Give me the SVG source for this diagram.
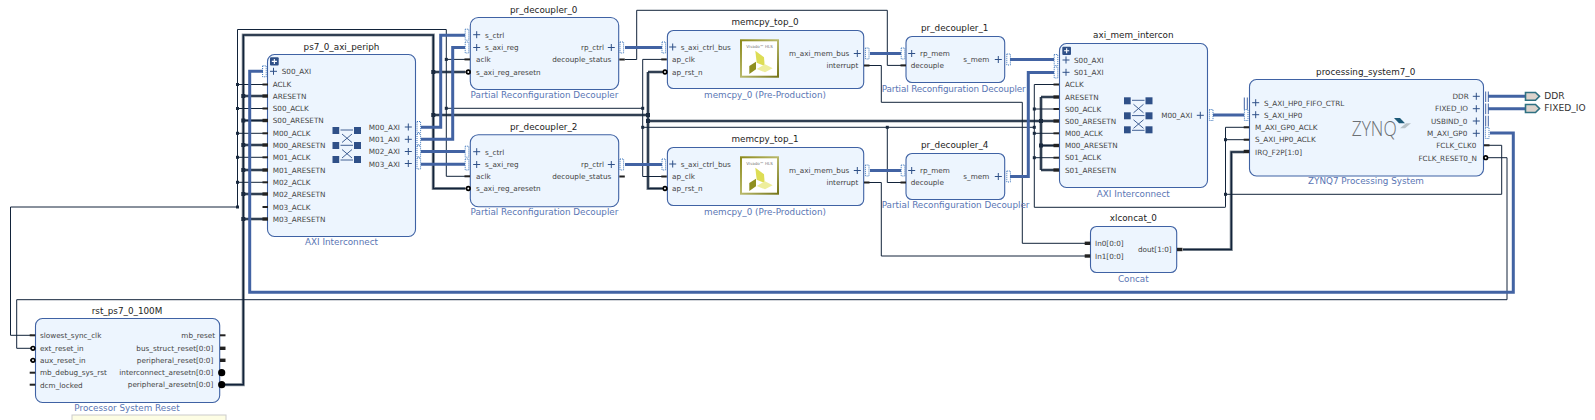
<svg xmlns="http://www.w3.org/2000/svg" xmlns:xlink="http://www.w3.org/1999/xlink" width="1595" height="420" viewBox="0 0 1595 420">
<style>
text{font-family:"DejaVu Sans",sans-serif}
.box{fill:#edf5fe;stroke:#3f62a4;stroke-width:1.1}
.t{font-size:8.8px;fill:#222;text-anchor:middle}
.s{font-size:8.8px;fill:#5a76b4;text-anchor:middle}
.p{font-size:7.25px;fill:#444}
.r{text-anchor:end}
.w{fill:none;stroke:#12233a;stroke-width:1}
.h{fill:none;stroke:#8d969e;stroke-width:3.2}
.k{fill:none;stroke:#12233a;stroke-width:1.5}
.b{fill:none;stroke:#4263a3;stroke-width:3}
.j{fill:#1a2a3f}
.st{fill:#222}
.plus{fill:none;stroke:#2f5088;stroke-width:1}
.dot{fill:none;stroke:#3a74bb;stroke-width:1;stroke-dasharray:1 1}
.bar{fill:none;stroke:#3f62a4;stroke-width:1}
.sq{fill:#2f5088}
.xl{fill:none;stroke:#2f5088;stroke-width:.9}
.bub{fill:#fff;stroke:#000;stroke-width:1.7}
.ext{font-size:9.1px;fill:#333}
</style>
<defs>
<path id="plus" class="plus" d="M-3.5 0H3.5M0-3.5V3.5"/>
<rect id="dp" class="dot" x="0" y="-5.5" width="3.6" height="11"/>
<rect id="stub" class="st" x="0" y="-1" width="5.5" height="2"/>
<rect id="stubk" class="st" x="0" y="-1.7" width="5.5" height="3.4"/>
<g id="bubble"><rect class="st" x="-3" y="-0.8" width="2" height="1.6"/><circle class="bub" r="1.8"/></g>
<circle id="ball" fill="#000" r="3.6"/>
<rect id="jt" class="j" x="-1.5" y="-1.5" width="3" height="3"/>
<rect id="jk" class="j" x="-2" y="-2" width="4" height="4"/>
<g id="btn"><rect class="sq" width="8.7" height="8.2" rx="1"/><path d="M1.8 4.1H6.9M4.35 1.6V6.6" stroke="#fff" stroke-width="1.1" fill="none"/></g>
<g id="xbar">
<rect class="sq" x="332.5" y="127" width="6.7" height="7"/><rect class="sq" x="354" y="127" width="7" height="7"/>
<rect class="sq" x="332.5" y="142" width="6.7" height="7"/><rect class="sq" x="354" y="142" width="7" height="7"/>
<rect class="sq" x="332.5" y="156" width="6.7" height="7"/><rect class="sq" x="354" y="156" width="7" height="7"/>
<path class="xl" d="M340.5 130H353M340.5 145.3H353M340.5 160H353M342 134L352 142.5M352 134L342 142.5M342 149.5L352 158M352 149.5L342 158"/>
</g>
<linearGradient id="gold" x1="0" y1="0" x2="1" y2="1"><stop offset="0" stop-color="#8c8a1c"/><stop offset=".5" stop-color="#b8b86a"/><stop offset="1" stop-color="#77761a"/></linearGradient>
<g id="hls">
<rect x="741" y="40.3" width="37" height="36.4" fill="#fff" stroke="url(#gold)" stroke-width="2"/>
<text x="759.5" y="47.8" font-size="4px" fill="#777" text-anchor="middle">Vivado™ HLS</text>
<polygon points="755.3,50.7 764,57.3 764.7,66 756.7,62.7" fill="#dddd55"/>
<polygon points="749.3,66 756,61.7 756,69.3 749.3,74" fill="#8f8f20"/>
<polygon points="756.7,69 765,64.3 772.7,68.3 765,72.3" fill="#eeee9c"/>
</g>
<path id="rnet" d="M225 384.7H243.3V35H433.3V188.5H465M243.3 96H263M243.3 120.5H263M243.3 145H263M243.3 170H263M243.3 194H263M243.3 219H263M433.3 72H465M433.3 115H648M648 72H662M648 72V188.5H662M648 121H1041M1041 97V170M1041 97H1054M1041 121H1054M1041 145.5H1054M1041 170H1054"/>
<path id="irq" d="M1183 249.5H1231.3V152H1244"/>
</defs>

<g id="connectors">
<use xlink:href="#rnet" href="#rnet" class="h"/>
<use xlink:href="#irq" href="#irq" class="h"/>
<use xlink:href="#rnet" href="#rnet" class="k"/>
<use xlink:href="#irq" href="#irq" class="k"/>
<path class="w" d="M32 335.3H10.5V207H237.5V29.5H446.3V176.3H465M237.5 84.5H263M237.5 108.5H263M237.5 133.3H263M237.5 157.3H263M237.5 182.3H263M446.3 59.4H465M446.3 108.3H642.7M642.7 59.4H662M642.7 59.4V176.5H662M642.7 127.3H1034.3M1484 145.3H1501.7V194.3H1225.5M1255 127.3H1225.5V206.9M1225.5 139.7H1250M1225.5 207.3H1034.3V84.5H1054M1034.3 109H1054M1034.3 133.3H1054M1034.3 157.7H1054"/>
<path class="w" d="M625 59.5H636.7V10.3H887.3V65.4H906M887.3 127.3V182.5H906"/>
<path class="w" d="M869 65.5H881.3V102.3H1022.3V243.3H1085M869 182.5H881.3V256H1085"/>
<path class="w" d="M1484 157.7H1507V299.7H16.7V348.3H30"/>
<path class="b" d="M263 71.3H249.7V292.3H1513.3V132.9H1490"/>
<path class="b" d="M421 127.3H440.7V35.3H465M421 139.3H452.7V47.4H465M421 151.4H465M421 164.2H465M625 47.5H662M625 164.5H662M870 53.5H901M870 170.5H901M1010 59.5H1054M1010 176.5H1028.3V72.5H1054M1213 115H1244M1488 96.3H1526M1488 108.7H1526"/>
<g>
<use href="#jt" x="237.5" y="84.5"/><use href="#jt" x="237.5" y="108.5"/><use href="#jt" x="237.5" y="133.3"/><use href="#jt" x="237.5" y="157.3"/><use href="#jt" x="237.5" y="182.3"/><use href="#jt" x="237.5" y="207"/>
<use href="#jk" x="243.3" y="96"/><use href="#jk" x="243.3" y="120.5"/><use href="#jk" x="243.3" y="145"/><use href="#jk" x="243.3" y="170"/><use href="#jk" x="243.3" y="194"/><use href="#jk" x="243.3" y="219"/>
<use href="#jt" x="446.3" y="59.4"/><use href="#jt" x="446.3" y="108.3"/><use href="#jk" x="433.3" y="72"/><use href="#jk" x="433.3" y="115"/>
<use href="#jt" x="642.7" y="108.3"/><use href="#jt" x="642.7" y="127.3"/><use href="#jk" x="648" y="115"/><use href="#jk" x="648" y="121"/>
<use href="#jt" x="887.3" y="127.3"/><use href="#jt" x="1034.3" y="109"/><use href="#jt" x="1034.3" y="127.3"/><use href="#jt" x="1034.3" y="133.3"/><use href="#jt" x="1034.3" y="157.7"/>
<use href="#jk" x="1041" y="121"/><use href="#jk" x="1041" y="145.5"/>
<use href="#jt" x="1225.5" y="139.7"/><use href="#jt" x="1225.5" y="194.3"/>
</g>
</g>

<g id="ps7_0_axi_periph">
<rect class="box" x="267.5" y="54.5" width="148" height="182" rx="7"/>
<text class="t" x="341.5" y="50">ps7_0_axi_periph</text>
<text class="s" x="341.5" y="244.5">AXI Interconnect</text>
<use href="#btn" x="270" y="57.3"/>
<use href="#plus" x="273.5" y="71.3"/><use href="#dp" x="262.6" y="71.3"/>
<text class="p" x="281.7" y="74">S00_AXI</text>
<text class="p" x="272.7" y="87.2">ACLK</text><text class="p" x="272.7" y="99">ARESETN</text><text class="p" x="272.7" y="111.2">S00_ACLK</text><text class="p" x="272.7" y="123.2">S00_ARESETN</text><text class="p" x="272.7" y="136">M00_ACLK</text><text class="p" x="272.7" y="148">M00_ARESETN</text><text class="p" x="272.7" y="160">M01_ACLK</text><text class="p" x="272.7" y="173">M01_ARESETN</text><text class="p" x="272.7" y="185">M02_ACLK</text><text class="p" x="272.7" y="197">M02_ARESETN</text><text class="p" x="272.7" y="209.7">M03_ACLK</text><text class="p" x="272.7" y="222">M03_ARESETN</text>
<g fill="#222">
<use href="#stub" x="262.5" y="84.5"/><use href="#stubk" x="262.5" y="96"/><use href="#stub" x="262.5" y="108.5"/><use href="#stubk" x="262.5" y="120.5"/><use href="#stub" x="262.5" y="133.3"/><use href="#stubk" x="262.5" y="145"/><use href="#stub" x="262.5" y="157.3"/><use href="#stubk" x="262.5" y="170"/><use href="#stub" x="262.5" y="182.3"/><use href="#stubk" x="262.5" y="194"/><use href="#stub" x="262.5" y="207"/><use href="#stubk" x="262.5" y="219"/>
</g>
<text class="p r" x="400" y="130">M00_AXI</text><text class="p r" x="400" y="142">M01_AXI</text><text class="p r" x="400" y="154">M02_AXI</text><text class="p r" x="400" y="166.5">M03_AXI</text>
<use href="#plus" x="408.3" y="127"/><use href="#plus" x="408.3" y="139.3"/><use href="#plus" x="408.3" y="151.5"/><use href="#plus" x="408.3" y="163.5"/>
<use href="#dp" x="417" y="127"/><use href="#dp" x="417" y="139.3"/><use href="#dp" x="417" y="151.4"/><use href="#dp" x="417" y="163.5"/>
<use href="#xbar"/>
</g>

<g id="pr_decoupler_0">
<rect class="box" x="470.3" y="17.5" width="148.4" height="72" rx="8"/>
<text class="t" x="543.7" y="13.3">pr_decoupler_0</text>
<text class="s" x="544.5" y="97.7">Partial Reconfiguration Decoupler</text>
<use href="#plus" x="476.7" y="34.7"/><use href="#plus" x="476.7" y="47.5"/><use href="#dp" x="465.2" y="34.7"/><use href="#dp" x="465.2" y="47.5"/>
<text class="p" x="485" y="38">s_ctrl</text><text class="p" x="485" y="50.2">s_axi_reg</text><text class="p" x="476" y="62.2">aclk</text><text class="p" x="476" y="74.7">s_axi_reg_aresetn</text>
<use href="#stub" x="464.5" y="59.4"/><use href="#bubble" x="468.3" y="72"/>
<text class="p r" x="604" y="50.2">rp_ctrl</text><text class="p r" x="611.3" y="62.2">decouple_status</text>
<use href="#plus" x="611.3" y="47.5"/><use href="#dp" x="620" y="47.5"/><use href="#stub" x="619.3" y="59.5"/>
</g>

<g id="pr_decoupler_2">
<rect class="box" x="470.3" y="134.7" width="148.4" height="72" rx="8"/>
<text class="t" x="543.7" y="130">pr_decoupler_2</text>
<text class="s" x="544.5" y="214.7">Partial Reconfiguration Decoupler</text>
<use href="#plus" x="476.7" y="151.7"/><use href="#plus" x="476.7" y="164.5"/><use href="#dp" x="465.2" y="151.7"/><use href="#dp" x="465.2" y="164.5"/>
<text class="p" x="485" y="155">s_ctrl</text><text class="p" x="485" y="167.2">s_axi_reg</text><text class="p" x="476" y="179.2">aclk</text><text class="p" x="476" y="191.4">s_axi_reg_aresetn</text>
<use href="#stub" x="464.5" y="176.3"/><use href="#bubble" x="468.3" y="188.5"/>
<text class="p r" x="604" y="167.2">rp_ctrl</text><text class="p r" x="611.3" y="179.2">decouple_status</text>
<use href="#plus" x="611.3" y="164.5"/><use href="#dp" x="620" y="164.5"/><use href="#stub" x="619.3" y="176.5"/>
</g>

<g id="memcpy_top_0">
<rect class="box" x="667.4" y="30.5" width="196.3" height="58" rx="6"/>
<text class="t" x="765" y="25">memcpy_top_0</text>
<text class="s" x="765" y="97.7">memcpy_0 (Pre-Production)</text>
<use href="#plus" x="672.7" y="47"/><use href="#dp" x="662" y="47.5"/>
<text class="p" x="680.7" y="50.2">s_axi_ctrl_bus</text><text class="p" x="672" y="62.2">ap_clk</text><text class="p" x="672" y="74.7">ap_rst_n</text>
<use href="#stub" x="661.3" y="59.4"/><use href="#bubble" x="665" y="72"/>
<use href="#hls"/>
<text class="p r" x="849.3" y="56.2">m_axi_mem_bus</text><text class="p r" x="858.3" y="68.2">interrupt</text>
<use href="#plus" x="857.3" y="53.5"/><use href="#dp" x="865.4" y="53.5"/><use href="#stub" x="864" y="65.5"/>
</g>

<g id="memcpy_top_1">
<rect class="box" x="667.4" y="147.5" width="196.3" height="58" rx="6"/>
<text class="t" x="765" y="141.7">memcpy_top_1</text>
<text class="s" x="765" y="214.7">memcpy_0 (Pre-Production)</text>
<use href="#plus" x="672.7" y="164"/><use href="#dp" x="662" y="164.5"/>
<text class="p" x="680.7" y="167.2">s_axi_ctrl_bus</text><text class="p" x="672" y="179.2">ap_clk</text><text class="p" x="672" y="191.4">ap_rst_n</text>
<use href="#stub" x="661.3" y="176.5"/><use href="#bubble" x="665" y="188.5"/>
<use href="#hls" y="117"/>
<text class="p r" x="849.3" y="173.2">m_axi_mem_bus</text><text class="p r" x="858.3" y="185.2">interrupt</text>
<use href="#plus" x="857.3" y="170.5"/><use href="#dp" x="865.4" y="170.5"/><use href="#stub" x="864" y="182.5"/>
</g>

<g id="pr_decoupler_1">
<rect class="box" x="906" y="36.5" width="98.7" height="46" rx="6"/>
<text class="t" x="954.7" y="31">pr_decoupler_1</text>
<text class="s" x="881.7" y="91.7" style="text-anchor:start" textLength="144">Partial Reconfiguration Decoupler</text>
<use href="#plus" x="911.7" y="53.5"/><use href="#dp" x="901.2" y="53.5"/>
<text class="p" x="920" y="56.2">rp_mem</text><text class="p" x="910.7" y="68.2">decouple</text>
<use href="#stub" x="900.5" y="65.4"/>
<text class="p r" x="989.3" y="62.2">s_mem</text>
<use href="#plus" x="998.3" y="59.5"/><use href="#dp" x="1006.8" y="59.5"/>
</g>

<g id="pr_decoupler_4">
<rect class="box" x="906" y="153.5" width="98.7" height="46" rx="6"/>
<text class="t" x="954.7" y="148">pr_decoupler_4</text>
<text class="s" x="881.7" y="208.3" style="text-anchor:start">Partial Reconfiguration Decoupler</text>
<use href="#plus" x="911.7" y="170.5"/><use href="#dp" x="901.2" y="170.5"/>
<text class="p" x="920" y="173.2">rp_mem</text><text class="p" x="910.7" y="185.2">decouple</text>
<use href="#stub" x="900.5" y="182.5"/>
<text class="p r" x="989.3" y="179.2">s_mem</text>
<use href="#plus" x="998.3" y="176.5"/><use href="#dp" x="1006.8" y="176.5"/>
</g>

<g id="axi_mem_intercon">
<rect class="box" x="1059.5" y="43.5" width="148" height="144" rx="7"/>
<text class="t" x="1133.3" y="37.7">axi_mem_intercon</text>
<text class="s" x="1133.3" y="196.7">AXI Interconnect</text>
<use href="#btn" x="1062.3" y="46.7"/>
<use href="#plus" x="1066" y="60"/><use href="#plus" x="1066" y="72.3"/><use href="#dp" x="1054.2" y="60"/><use href="#dp" x="1054.2" y="72.5"/>
<text class="p" x="1074" y="62.8">S00_AXI</text><text class="p" x="1074" y="75.2">S01_AXI</text>
<text class="p" x="1065" y="87.2">ACLK</text><text class="p" x="1065" y="99.8">ARESETN</text><text class="p" x="1065" y="111.8">S00_ACLK</text><text class="p" x="1065" y="123.8">S00_ARESETN</text><text class="p" x="1065" y="136">M00_ACLK</text><text class="p" x="1065" y="148.2">M00_ARESETN</text><text class="p" x="1065" y="160.4">S01_ACLK</text><text class="p" x="1065" y="172.8">S01_ARESETN</text>
<use href="#stub" x="1053.5" y="84.5"/><use href="#stubk" x="1053.5" y="97"/><use href="#stub" x="1053.5" y="109"/><use href="#stubk" x="1053.5" y="121"/><use href="#stub" x="1053.5" y="133.3"/><use href="#stubk" x="1053.5" y="145.5"/><use href="#stub" x="1053.5" y="157.7"/><use href="#stubk" x="1053.5" y="170"/>
<use href="#xbar" x="791.5" y="-29.7"/>
<text class="p r" x="1192.3" y="118">M00_AXI</text>
<use href="#plus" x="1200.3" y="115.3"/><use href="#dp" x="1209.4" y="115"/>
</g>

<g id="xlconcat_0">
<rect class="box" x="1090.5" y="226.5" width="86.2" height="46" rx="6"/>
<text class="t" x="1133.3" y="220.7">xlconcat_0</text>
<text class="s" x="1133.3" y="281.7">Concat</text>
<text class="p" x="1095" y="246">In0[0:0]</text><text class="p" x="1095" y="258.7">In1[0:0]</text>
<text class="p r" x="1171.7" y="252.2">dout[1:0]</text>
<use href="#stubk" x="1084.7" y="243.3"/><use href="#stubk" x="1084.7" y="256"/><use href="#stubk" x="1177" y="249.5"/>
</g>

<g id="processing_system7_0">
<rect class="box" x="1249.5" y="79.5" width="234" height="96.5" rx="7"/>
<text class="t" x="1365.7" y="75">processing_system7_0</text>
<text class="s" x="1366" y="184">ZYNQ7 Processing System</text>
<use href="#plus" x="1255.7" y="102.7"/><use href="#plus" x="1255.7" y="114.7"/>
<path class="bar" d="M1244.3 97.5V109.5M1247.3 97.5V109.5"/><use href="#dp" x="1244.4" y="115"/>
<text class="p" x="1264" y="105.5">S_AXI_HP0_FIFO_CTRL</text><text class="p" x="1264" y="118">S_AXI_HP0</text>
<text class="p" x="1255" y="130">M_AXI_GP0_ACLK</text><text class="p" x="1255" y="142.4">S_AXI_HP0_ACLK</text><text class="p" x="1255" y="155">IRQ_F2P[1:0]</text>
<use href="#stub" x="1243.7" y="127.3"/><use href="#stub" x="1243.7" y="139.7"/><use href="#stubk" x="1243.7" y="151.5"/>
<text x="1351.7" y="136" font-size="21px" textLength="45" lengthAdjust="spacingAndGlyphs" style="font-family:'Open Sans',sans-serif;font-weight:300" fill="#6b6f73">ZYNQ</text>
<polygon points="1394,118 1400,118 1405,123.3 1399,123.3" fill="#1d5a78"/>
<polygon points="1400,128.3 1406,123.3 1411,123.3 1405,128.3" fill="#b8c2c8"/>
<text class="p r" x="1468.7" y="99">DDR</text><text class="p r" x="1468" y="111.4">FIXED_IO</text><text class="p r" x="1467.3" y="123.7">USBIND_0</text><text class="p r" x="1467.3" y="136">M_AXI_GP0</text><text class="p r" x="1476.3" y="148">FCLK_CLK0</text><text class="p r" x="1477" y="160.7">FCLK_RESET0_N</text>
<use href="#plus" x="1476.3" y="96.3"/><use href="#plus" x="1476.3" y="108.7"/><use href="#plus" x="1476.3" y="121"/><use href="#plus" x="1476.3" y="133.3"/>
<path class="bar" d="M1485.7 91.5V102M1488.3 91.5V102M1485.7 103.5V114.2M1488.3 103.5V114.2M1485.7 115.7V126.5M1488.3 115.7V126.5"/>
<use href="#dp" x="1485.4" y="133"/><use href="#stub" x="1484" y="145.3"/><circle class="bub" cx="1485.7" cy="157.7" r="1.8"/>
</g>

<g id="rst_ps7_0_100M">
<rect class="box" x="35.5" y="318.5" width="184.2" height="84" rx="7"/>
<text class="t" x="127" y="314">rst_ps7_0_100M</text>
<text class="s" x="127" y="410.7">Processor System Reset</text>
<text class="p" x="40" y="338">slowest_sync_clk</text><text class="p" x="40" y="351">ext_reset_in</text><text class="p" x="40" y="363">aux_reset_in</text><text class="p" x="40" y="375.4">mb_debug_sys_rst</text><text class="p" x="40" y="387.7">dcm_locked</text>
<use href="#stub" x="29.7" y="335.3"/><use href="#bubble" x="33" y="348.3"/><use href="#bubble" x="33" y="360.3"/><use href="#stub" x="29.7" y="372.7"/><use href="#stub" x="29.7" y="384.7"/>
<text class="p r" x="215" y="338">mb_reset</text><text class="p r" x="213.3" y="351">bus_struct_reset[0:0]</text><text class="p r" x="213.3" y="363">peripheral_reset[0:0]</text><text class="p r" x="213.3" y="375.4">interconnect_aresetn[0:0]</text><text class="p r" x="213.3" y="387.4">peripheral_aresetn[0:0]</text>
<use href="#stub" x="220" y="335.3"/><use href="#stubk" x="220" y="348.3"/><use href="#stubk" x="220" y="360.3"/><use href="#ball" x="221.7" y="372.7"/><use href="#ball" x="221.7" y="384.7"/>
</g>

<g id="DDR">
<path d="M1525.5 92.5H1535.5L1539.5 96.3L1535.5 100.3H1525.5Z" fill="#dcd3cc" stroke="#2f7182" stroke-width="1.6"/>
<text class="ext" x="1544.3" y="99">DDR</text>
</g>
<g id="FIXED_IO">
<path d="M1525.5 104.5H1535.5L1539.5 108.5L1535.5 112.5H1525.5Z" fill="#dcd3cc" stroke="#2f7182" stroke-width="1.6"/>
<text class="ext" x="1544.3" y="111.2">FIXED_IO</text>
</g>
<rect x="72" y="415" width="154" height="10" fill="#fdfde4" stroke="#ccc"/>
</svg>
